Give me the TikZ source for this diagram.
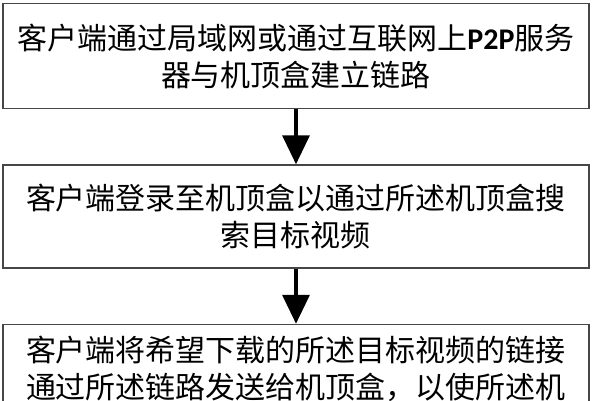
\documentclass[tikz,border=0pt]{standalone}
\usepackage{fontspec}
\usepackage{xcolor}
\usepackage{tikz}
\newfontfamily\cjk{Noto Sans CJK SC}
\newfontfamily\latin{Carlito}
\definecolor{boxgray}{RGB}{70, 70, 70}
\usetikzlibrary{arrows.meta, positioning}

\begin{document}
\begin{tikzpicture}[
        x=1pt, y=1pt,
        node distance=55pt,
        every node/.style={font=\fontsize{30}{37}\selectfont\cjk},
        stepbox/.style={rectangle, draw=boxgray, line width=1.5pt, minimum width=586pt, inner sep=0pt, align=center},
        arrow/.style={line width=3.5pt, -{Triangle[width=27pt,length=29pt]}, color=black}
    ]
        \useasboundingbox (0,0) rectangle (592,-400);

        \node[stepbox, minimum height=105pt] (link) at (296,-56) {客户端通过局域网或通过互联网上{\latin\bfseries P2P}服务\\器与机顶盒建立链路};
        \node[stepbox, minimum height=103pt, below=of link] (search) {客户端登录至机顶盒以通过所述机顶盒搜\\索目标视频};
        \node[stepbox, inner ysep=12pt, below=of search] (send) {客户端将希望下载的所述目标视频的链接\\通过所述链路发送给机顶盒，以使所述机};

        \draw[arrow] (link) -- (search);
        \draw[arrow] (search) -- (send);

    \end{tikzpicture}
\end{document}
